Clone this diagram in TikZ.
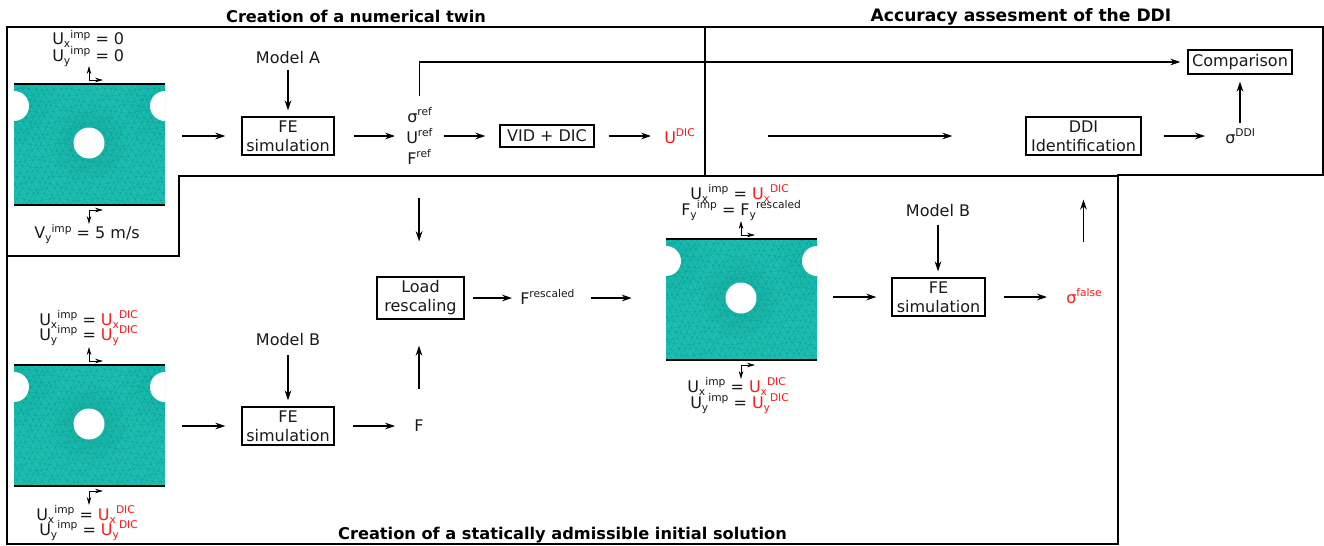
\documentclass[tikz,border=0pt]{standalone}
\usepackage{fontspec}
\setmainfont{DejaVu Sans}
\usetikzlibrary{arrows.meta,calc}
\definecolor{teal1}{HTML}{1CBFB2}
\definecolor{teal2}{HTML}{0E8F85}
\definecolor{redt}{HTML}{FF1A1A}
\definecolor{ink}{HTML}{1A1A1A}
% quantity with subscript and superscript
\newcommand{\QS}[3]{#1\raisebox{-2.6pt}{\fontsize{8}{8}\selectfont #2}\raisebox{4.6pt}{\fontsize{8}{8}\selectfont #3}}
\newcommand{\QR}[2]{#1\raisebox{4.6pt}{\fontsize{8}{8}\selectfont #2}}
\newcommand{\RD}[1]{\textcolor{redt}{#1}}
\tikzset{
  x=0.75pt,y=-0.75pt,
  arr/.style={-{Stealth[length=7.5pt,width=5pt]},line width=1.05pt,black},
  mini/.style={-{Stealth[length=6pt,width=3.4pt]},line width=0.6pt,black},
  sh/.style 2 args={shorten <=#1*0.75pt,shorten >=#2*0.75pt},
  frameline/.style={line width=1pt,black},
  boxn/.style={draw=black,line width=1pt,align=center,inner sep=0pt,text=ink,font=\fontsize{12}{14.25}\selectfont},
  txt/.style={inner sep=0pt,text=ink,font=\fontsize{12}{14.25}\selectfont},
  lab/.style={txt,anchor=base west},
  title/.style={inner sep=0pt,font=\fontsize{12.15}{14}\bfseries\selectfont,text=black},
  spec/.style={minimum width=113.25pt,minimum height=90.75pt,inner sep=0pt},
  specimen/.pic={
    \begin{scope}
      \clip (0,0) rectangle (151,121);
      \fill[teal1] (0,0) rectangle (151,121);
      \draw[teal2,line width=0.2pt,opacity=.6]
        \foreach \j in {0,...,21}{\foreach \i in {-12,...,28}{
          ({mx(\i,\j)},{my(\i,\j)}) -- ({mx(\i+1,\j)},{my(\i+1,\j)}) -- ({mx(\i,\j+1)},{my(\i,\j+1)}) -- cycle}};
      \foreach \r in {20,25,30,35,40}{
        \fill[teal2,opacity=.03] (75,59) circle (\r);
        \fill[teal2,opacity=.02] (0,22) circle (\r+4);
        \fill[teal2,opacity=.02] (151,22) circle (\r+4);
      }
      \fill[white] (75,59) circle (15.5) (0,22) circle (15) (151,22) circle (15);
    \end{scope}
    \draw[line width=0.95pt,black] (0,0) -- (151,0) (0,121) -- (151,121);
    \draw[mini] (75,-4) -- (75,-18);
    \draw[mini] (75,-4) -- (89,-4);
    \draw[mini] (75,126) -- (75,140);
    \draw[mini] (75,126) -- (89,126);
  }
}
\begin{document}
\begin{tikzpicture}[
  declare function={
    mx(\i,\j)=(\i+0.5*\j)*6.2+1.4*sin(\i*97+\j*131);
    my(\i,\j)=\j*5.5+1.2*sin(\i*53+\j*211);
  }]
\useasboundingbox (0,0) rectangle (1324,546);
\fill[white] (0,0) rectangle (1324,546);

% frames
\draw[frameline] (7,27) -- (1323,27) -- (1323,175) -- (1118,175) -- (1118,544) -- (7,544) -- cycle;
\draw[frameline] (705,27) -- (705,176);
\draw[frameline] (7,256) -- (179,256) -- (179,176) -- (1118,176);

% titles
\node[title] (t1) at (356,16.5) {Creation of a numerical twin};
\node[title,font=\fontsize{12.85}{14}\bfseries\selectfont] (t2) at (1021,16.5) {Accuracy assesment of the DDI};
\node[title] (t3) at (562.5,535.5) {Creation of a statically admissible initial solution};

% specimens
\pic at (14,84) {specimen};
\pic at (14,365) {specimen};
\pic at (666,239) {specimen};
\node[spec] (spA) at (89.5,144.5) {};
\node[spec] (spB) at (89.5,425.5) {};
\node[spec] (spC) at (741.5,299.5) {};

% boxes
\node[boxn,minimum width=69pt,minimum height=28.5pt] (feA) at (288,136) {FE\\simulation};
\node[boxn,minimum width=69pt,minimum height=28.5pt] (feB) at (288,426) {FE\\simulation};
\node[boxn,minimum width=69.75pt,minimum height=28.5pt] (feC) at (938.5,297) {FE\\simulation};
\node[boxn,minimum width=70.5pt,minimum height=16.5pt] (vid) at (547,136) {VID + DIC};
\node[boxn,minimum width=86.25pt,minimum height=28.5pt] (ddi) at (1083.5,136) {DDI\\Identification};
\node[boxn,minimum width=78pt,minimum height=18pt] (comp) at (1240,62) {Comparison};
\node[boxn,minimum width=65.25pt,minimum height=31.5pt] (load) at (420.5,298) {Load\\rescaling};

% simple labels
\node[txt] (mA) at (288,58) {Model A};
\node[txt] (mB) at (288,340) {Model B};
\node[txt] (mC) at (938,211) {Model B};
\node[txt] (Fn) at (419,426) {F};

\node[lab] (sref) at (407,122) {\QR{σ}{ref}};
\node[lab] (uref) at (406,143) {\QR{U}{ref}};
\node[lab] (fref) at (407,164) {\QR{F}{ref}};
\node[lab] (udic) at (664,143) {\RD{\QR{U}{DIC}}};
\node[lab] (sddi) at (1225,143) {\QR{σ}{DDI}};
\node[lab] (frs) at (520,304) {\QR{F}{rescaled}};
\node[lab] (sfal) at (1066,303) {\RD{\QR{σ}{false}}};

% boundary condition labels
\node[lab] (a1) at (52,44.5) {\QS{U}{x}{imp} = 0};
\node[lab] (a2) at (52,61) {\QS{U}{y}{imp} = 0};
\node[lab] (a3) at (34,238.5) {\QS{V}{y}{imp} = 5 m/s};
\node[lab] (b1) at (39,325) {\QS{U}{x}{imp} = \RD{\QS{U}{x}{DIC}}};
\node[lab] (b2) at (39,340) {\QS{U}{y}{imp} = \RD{\QS{U}{y}{DIC}}};
\node[lab] (b3) at (36,520) {\QS{U}{x}{imp} = \RD{\QS{U}{x}{DIC}}};
\node[lab] (b4) at (39,535) {\QS{U}{y}{imp} = \RD{\QS{U}{y}{DIC}}};
\node[lab] (c1) at (690,199) {\QS{U}{x}{imp} = \RD{\QS{U}{x}{DIC}}};
\node[lab] (c2) at (681,215) {\QS{F}{y}{imp} = \QS{F}{y}{rescaled}};
\node[lab] (c3) at (687,392) {\QS{U}{x}{imp} = \RD{\QS{U}{x}{DIC}}};
\node[lab] (c4) at (690,408) {\QS{U}{y}{imp} = \RD{\QS{U}{y}{DIC}}};

% connectors
\draw[arr,sh={6}{6}] (mA.south) -- (feA.north);
\draw[arr,sh={17}{16}] (spA.east |- feA.west) -- (feA.west);
\draw[arr,sh={19}{11}] (feA.east) -- (feA.east -| uref.west);
\draw[arr,sh={11}{14}] (vid.west -| uref.east) -- (vid.west);
\draw[arr,sh={14}{13}] (vid.east) -- (vid.east -| udic.west);
\draw[arr,sh={73}{73}] (ddi.west -| udic.east) -- (ddi.west);
\draw[arr,sh={22}{20}] (ddi.east) -- (ddi.east -| sddi.west);
\draw[arr,sh={6}{7}] (comp.south |- sddi.north) -- (comp.south);
\draw[arr,sh={11}{7}] (sref.north) |- (comp.west);
\draw[arr,sh={34}{35}] (fref.south) -- (load.north -| fref.south);
\draw[arr,sh={9}{6}] (mB.south) -- (feB.north);
\draw[arr,sh={17}{16}] (spB.east |- feB.west) -- (feB.west);
\draw[arr,sh={18}{19}] (feB.east) -- (Fn.west |- feB.east);
\draw[arr,sh={31}{26}] (Fn.north) -- (load.south -| Fn.north);
\draw[arr,sh={8}{8}] (load.east) -- (load.east -| frs.west);
\draw[arr,sh={16}{34}] (load.east -| frs.east) -- (load.east -| spC.west);
\draw[arr,sh={16}{15}] (spC.east |- feC.west) -- (feC.west);
\draw[arr,sh={8}{6}] (mC.south) -- (feC.north -| mC.south);
\draw[arr,sh={18}{19}] (feC.east) -- (feC.east -| sfal.west);
\draw[arr,sh={46}{44}] (sfal.north -| ddi.south) -- (ddi.south);
\end{tikzpicture}
\end{document}
